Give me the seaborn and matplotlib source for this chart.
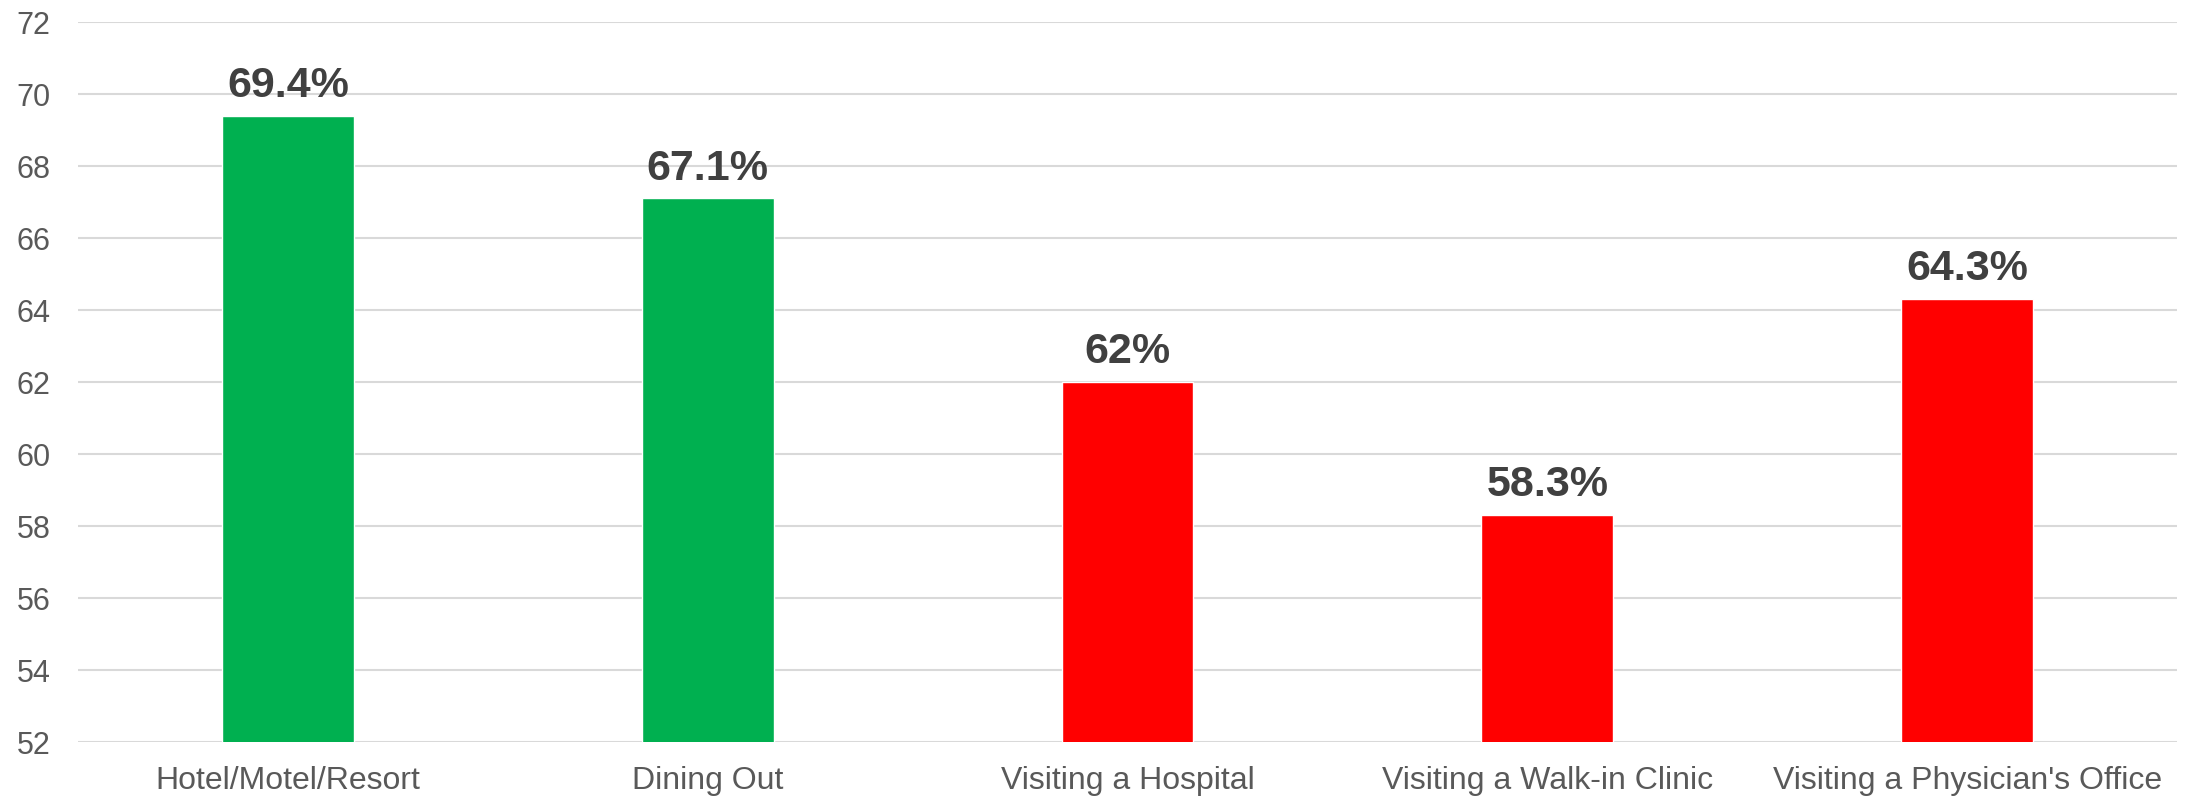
import matplotlib
matplotlib.use("Agg")
import matplotlib.pyplot as plt
import seaborn as sns
import pandas as pd

categories = ["Hotel/Motel/Resort", "Dining Out", "Visiting a Hospital",
              "Visiting a Walk-in Clinic", "Visiting a Physician's Office"]
values = [69.4, 67.1, 62.0, 58.3, 64.3]
labels = ["69.4%", "67.1%", "62%", "58.3%", "64.3%"]
colors = ["#00B050", "#00B050", "#FF0000", "#FF0000", "#FF0000"]
yticks = [52, 54, 56, 58, 60, 62, 64, 66, 68, 70, 72]

sns.set_theme(style="white")
plt.rcParams['font.family'] = ['Liberation Sans', 'DejaVu Sans']

df = pd.DataFrame({"cat": categories, "val": values})

fig = plt.figure(figsize=(21.88, 7.98), dpi=100)
ax = fig.add_axes([78/2188, 1-742/798, (2177-78)/2188, (742-22)/798])

sns.barplot(data=df, x="cat", y="val", hue="cat", palette=colors, legend=False,
            width=0.314, ax=ax, saturation=1, zorder=3)

ax.set_ylim(52, 72)
ax.set_yticks(yticks)
ax.set_xlim(-0.5, 4.5)
ax.yaxis.grid(True, color="#D9D9D9", linewidth=1.5, zorder=0)
ax.set_axisbelow(True)
for s in ax.spines.values():
    s.set_visible(False)
ax.set_xlabel("")
ax.set_ylabel("")
ax.tick_params(axis="both", length=0, labelsize=22, labelcolor="#595959")
ax.tick_params(axis="x", labelsize=23, pad=17)
ax.tick_params(axis="y", pad=20)

for i, (v, lab) in enumerate(zip(values, labels)):
    ax.annotate(lab, (i, v), xytext=(0, 7), textcoords="offset points",
                ha="center", va="bottom", fontsize=31, fontweight="bold",
                color="#404040")

fig.savefig("out.png", dpi=100)
